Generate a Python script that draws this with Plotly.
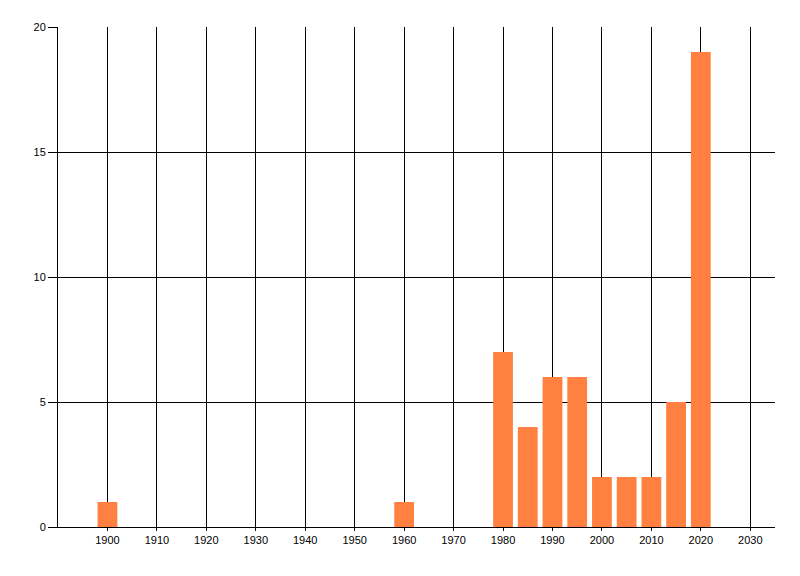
import plotly.graph_objects as go

years = [1900, 1960, 1980, 1985, 1990, 1995, 2000, 2005, 2010, 2015, 2020]
counts = [1, 1, 7, 4, 6, 6, 2, 2, 2, 5, 19]
x_ticks = list(range(1900, 2031, 10))
y_ticks = [0, 5, 10, 15, 20]

fig = go.Figure(go.Bar(
    x=years, y=counts, width=4,
    marker=dict(color="#FF8040", line=dict(width=0)),
))

fig.update_layout(
    width=792, height=568,
    margin=dict(l=50, r=25, t=19, b=49),
    paper_bgcolor="white", plot_bgcolor="white",
    showlegend=False,
    font=dict(family="Liberation Sans, Arial, sans-serif", size=11, color="black"),
)
fig.update_xaxes(
    range=[1890, 2035], tickvals=x_ticks, ticktext=[str(v) for v in x_ticks],
    showgrid=True, gridcolor="black", gridwidth=1,
    showline=True, linecolor="black", linewidth=1,
    ticks="outside", ticklen=3, tickcolor="black", zeroline=False,
    automargin=False,
)
fig.update_yaxes(
    range=[0, 20], tickvals=y_ticks,
    showgrid=True, gridcolor="black", gridwidth=1,
    showline=True, linecolor="black", linewidth=1,
    ticks="outside", ticklen=9, tickcolor="black", zeroline=False,
    automargin=False,
)

fig.write_html("out.html")
